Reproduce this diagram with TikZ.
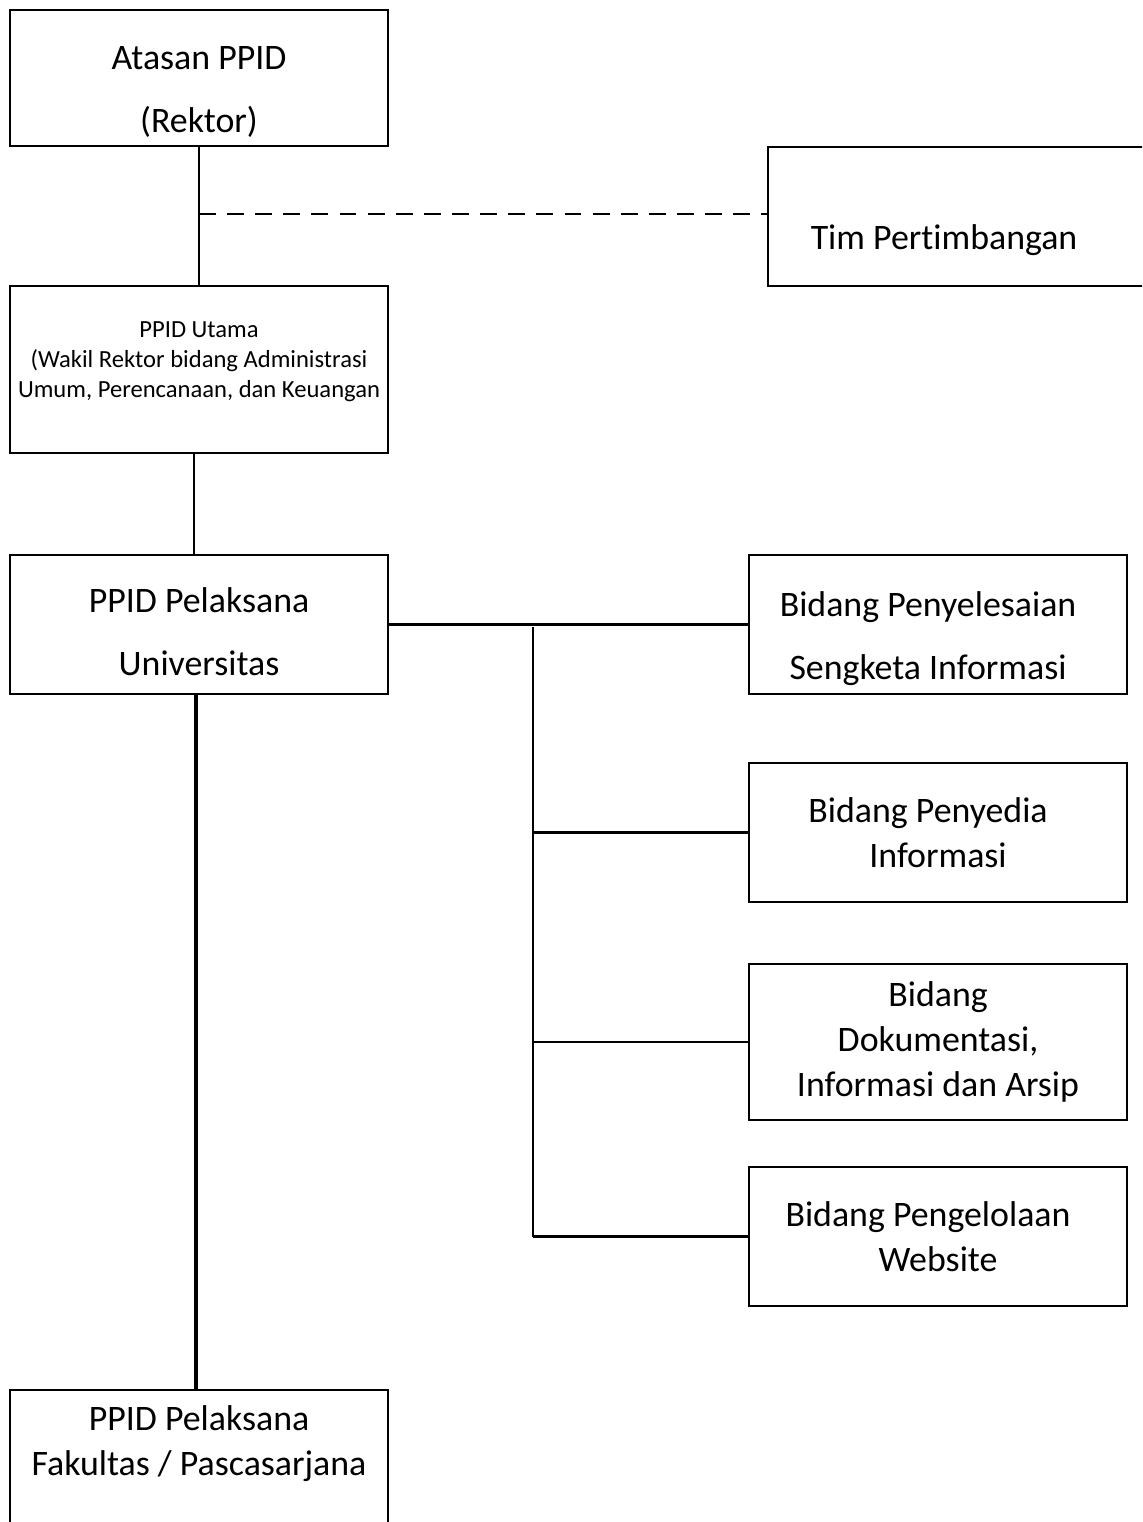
\documentclass[tikz,border=0pt]{standalone}
\usepackage{fontspec}
\setmainfont{Carlito}[Ligatures=NoCommon]
\usetikzlibrary{positioning}

\begin{document}
\begin{tikzpicture}[box/.style={draw,rectangle,line width=0.45pt,minimum width=3.78cm,minimum height=1.39cm,align=center,font=\fontsize{10.2}{12.8}\selectfont},
  small/.style={font=\fontsize{7.0}{8.5}\selectfont,inner xsep=0pt},
  link/.style={line width=0.6pt}]
\path[use as bounding box] (0,0) rectangle (11.42,-15.22);
\clip (0,0) rectangle (11.42,-15.22);

% top part
\node[box,minimum height=1.36cm,inner ysep=0pt] (atasan) at (1.99,-0.78) {\rule{0pt}{14.6pt}Atasan PPID\\[5pt](Rektor)};
\node[box] (tim) at (9.57,-2.165) {\raisebox{-0.33cm}[0pt][0pt]{\hspace*{-0.26cm}Tim Pertimbangan}};
\node[box,small,minimum height=1.67cm] (utama) at (1.99,-3.695) {PPID Utama\\(Wakil Rektor bidang Administrasi\\Umum, Perencanaan, dan Keuangan\\[-2.8pt]};

% pelaksana and the bidang boxes
\node[box,inner ysep=0pt] (pelaksana) at (1.99,-6.245) {\rule{0pt}{11.2pt}PPID Pelaksana\\[5pt]Universitas};
\node[box,inner ysep=0pt] (penyelesaian) at (9.38,-6.245) {\rule{0pt}{15.2pt}\hspace*{-0.2cm}Bidang Penyelesaian\\[5pt]\hspace*{-0.2cm}Sengketa Informasi};
\node[box] (penyedia) at (9.38,-8.325) {\hspace*{-0.2cm}Bidang Penyedia\\Informasi};
\node[box,minimum height=1.56cm] (dokumentasi) at (9.38,-10.42) {Bidang\\Dokumentasi,\\Informasi dan Arsip};
\node[box] (pengelolaan) at (9.38,-12.365) {\hspace*{-0.2cm}Bidang Pengelolaan\\Website};
\node[box,anchor=north,inner ysep=4.4pt,text depth=1cm] (fakultas) at (1.99,-13.89) {PPID Pelaksana\\Fakultas / Pascasarjana};

% connectors
\coordinate (tap) at (1.99,-2.14);
\draw[link] (atasan.south) -- (utama.north);
\draw[link,dash pattern=on 4.8pt off 3.2pt] (tap) -- (tap -| tim.west);
\draw[link] ([xshift=-0.5mm]utama.south) -- ([xshift=-0.5mm]pelaksana.north);
\draw[line width=1.2pt] ([xshift=-0.3mm]pelaksana.south) -- ([xshift=-0.3mm]fakultas.north);

\coordinate (bus) at (5.33,-6.27);
\draw[link] (pelaksana.east) -- (penyelesaian.west);
\draw[link] (bus) -- (bus |- pengelolaan.west);
\draw[link] (bus |- penyedia.west) -- (penyedia.west);
\draw[link] (bus |- dokumentasi.west) -- (dokumentasi.west);
\draw[link] (bus |- pengelolaan.west) -- (pengelolaan.west);
\end{tikzpicture}
\end{document}
